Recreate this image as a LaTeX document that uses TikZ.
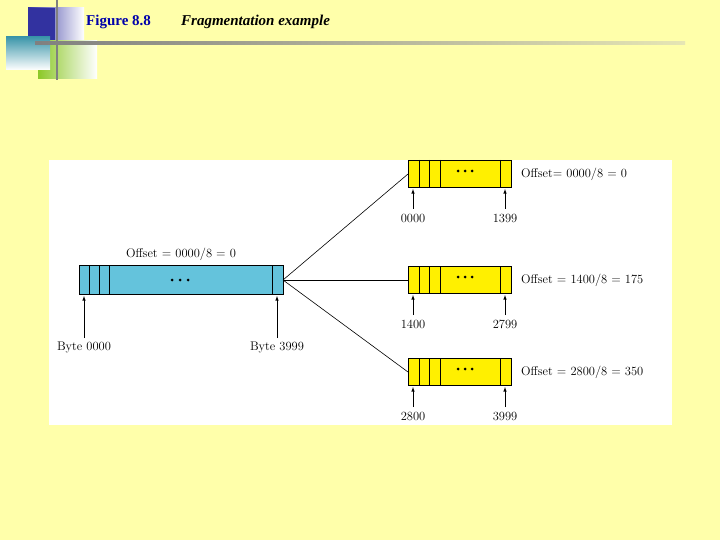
\documentclass[tikz,border=0pt]{standalone}
\usepackage{fontspec}
\newfontfamily\titlefont{Liberation Serif}
\definecolor{bgy}{RGB}{255,255,170}
\definecolor{dkblue}{RGB}{50,50,160}
\definecolor{lgreen}{RGB}{140,200,40}
\definecolor{teal2}{RGB}{60,150,170}
\definecolor{tblue}{RGB}{0,0,170}
\definecolor{bigfill}{RGB}{100,195,220}
\definecolor{frfill}{RGB}{255,240,0}
\definecolor{lineend}{RGB}{230,230,180}
\begin{document}
\begin{tikzpicture}[x=1pt,y=-1pt,
  lbl/.style={inner sep=0pt,font=\fontsize{12.5}{14}\selectfont},
  arr/.style={-latex,line width=0.6pt},
  dot/.style={circle,fill=black,inner sep=0pt,minimum size=3pt}]
\useasboundingbox (0,0) rectangle (720,540);
\fill[bgy] (0,0) rectangle (720,540);
% decoration
\shade[left color=dkblue,right color=white] (28,8) rectangle (84,41);
\fill[dkblue] (28,8) rectangle (55,41);
\shade[left color=lgreen,right color=white] (38,41) rectangle (97,79);
\shade[top color=teal2,bottom color=white] (6,37) rectangle (50,70);
\draw[gray,line width=2.5pt] (57,0) -- (57,80);
\shade[left color=gray,right color=lineend] (35,42) rectangle (685,45);
\node[anchor=west,inner sep=0pt,text=tblue,font=\titlefont\bfseries\fontsize{15}{17}\selectfont] (t1) at (86,22) {Figure 8.8};
\node[anchor=west,inner sep=0pt,font=\titlefont\bfseries\itshape\fontsize{15}{17}\selectfont] (t2) at (181,22) {Fragmentation example};
% panel
\fill[white] (49,160) rectangle (672,425);
% big datagram
\draw[fill=bigfill,line width=0.6pt] (79,265) rectangle (283,294);
\foreach \x in {89,99,109,272} \draw[line width=0.6pt] (\x,265) -- (\x,294);
\coordinate (big) at (283,280);
\foreach \x in {172,180,188} \node[dot] at (\x,280) {};
\node[lbl] (boff) at (181,254) {Offset = 0000/8 = 0};
\node[lbl] (b0) at (84,348) {Byte 0000};
\node[lbl] (b1) at (277,348) {Byte 3999};
\draw[arr] (84,338) -- (84,296);
\draw[arr] (277,338) -- (277,296);
% fragments
\foreach \n/\y/\a/\b/\o in {f1/160/0000/1399/{Offset= 0000/8 = 0},f2/266/1400/2799/{Offset = 1400/8 = 175},f3/358/2800/3999/{Offset = 2800/8 = 350}}{
  \draw[fill=frfill,line width=0.6pt] (408,\y) rectangle (511,\y+27);
  \foreach \x in {419,429,440,500} \draw[line width=0.6pt] (\x,\y) -- (\x,\y+27);
  \foreach \x in {458,465,472} \node[dot] at (\x,\y+11) {};
  \coordinate (\n) at (408,\y+14);
  \node[lbl,anchor=west] at (521,\y+14) {\o};
  \node[lbl] at (413,\y+58) {\a};
  \node[lbl] at (505,\y+58) {\b};
  \draw[arr] (413,\y+49) -- (413,\y+29);
  \draw[arr] (505,\y+49) -- (505,\y+29);
  \draw[line width=0.6pt] (big) -- (\n);
}
\end{tikzpicture}
\end{document}
